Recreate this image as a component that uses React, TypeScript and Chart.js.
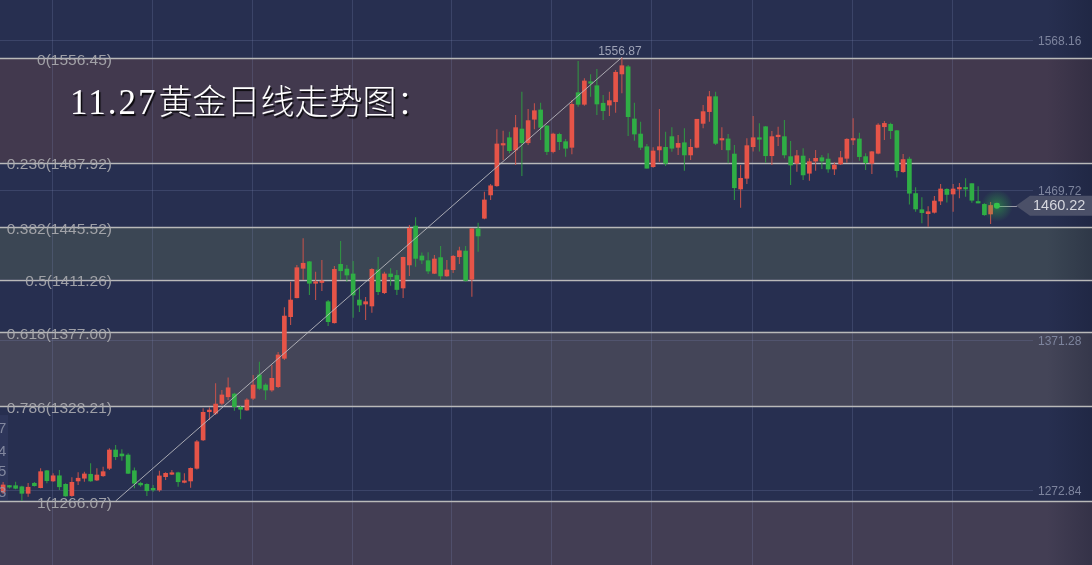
import React, { useEffect, useRef } from 'react';
import { Chart, registerables } from 'chart.js';

Chart.register(...registerables);

// ---- Data (daily gold candles) ----
const opens = [
  1272.0, 1275.7, 1276.1, 1275.4, 1271.1, 1277.7, 1274.8, 1285.9, 1279.2, 1282.6,
  1277.0, 1269.6, 1279.2, 1281.0, 1283.6, 1279.8, 1282.6, 1287.5, 1299.5, 1296.9,
  1296.2, 1285.9, 1277.7, 1277.0, 1274.4, 1273.3, 1282.0, 1283.6, 1284.6, 1278.3,
  1279.2, 1287.5, 1306.1, 1324.6, 1323.6, 1330.1, 1334.4, 1336.2, 1327.5, 1325.7,
  1333.4, 1348.7, 1342.1, 1338.8, 1341.0, 1359.6, 1386.9, 1399.3, 1418.6, 1422.9,
  1408.8, 1409.3, 1396.7, 1382.9, 1421.2, 1418.1, 1414.9, 1397.8, 1395.2, 1393.9,
  1417.5, 1402.6, 1414.9, 1413.9, 1405.7, 1420.8, 1446.3, 1426.7, 1423.6, 1415.3,
  1425.6, 1413.6, 1417.7, 1426.2, 1429.9, 1411.4, 1444.5, 1451.4, 1466.7, 1472.7,
  1499.4, 1504.2, 1496.2, 1509.9, 1500.9, 1516.3, 1522.4, 1511.9, 1495.1, 1506.4,
  1501.6, 1497.9, 1533.7, 1526.1, 1540.9, 1538.3, 1526.8, 1525.6, 1527.8, 1546.0,
  1550.7, 1516.5, 1506.6, 1498.3, 1485.2, 1496.2, 1497.9, 1504.9, 1497.9, 1500.9,
  1492.9, 1497.9, 1513.6, 1521.3, 1531.1, 1502.7, 1503.4, 1493.5, 1470.6, 1477.6,
  1498.3, 1504.2, 1511.4, 1492.4, 1504.9, 1504.9, 1491.8, 1487.4, 1492.2, 1480.9,
  1488.9, 1491.1, 1490.2, 1483.7, 1487.0, 1490.7, 1502.7, 1503.4, 1491.8, 1487.4,
  1494.0, 1511.4, 1513.0, 1508.8, 1481.9, 1490.2, 1467.6, 1457.0, 1454.4, 1455.3,
  1462.7, 1470.4, 1467.3, 1470.6, 1471.2, 1474.1, 1462.1, 1460.5, 1454.2, 1460.6,
];
const highs = [
  1278.5, 1276.6, 1278.7, 1276.1, 1277.9, 1278.5, 1287.5, 1286.4, 1284.2, 1286.4,
  1277.7, 1281.6, 1284.9, 1285.3, 1290.8, 1287.5, 1288.5, 1300.6, 1302.8, 1300.0,
  1297.3, 1288.1, 1278.7, 1277.7, 1276.6, 1285.9, 1284.9, 1286.4, 1285.3, 1284.2,
  1288.1, 1306.1, 1326.8, 1327.5, 1343.2, 1338.8, 1347.1, 1337.1, 1328.3, 1333.4,
  1348.7, 1357.4, 1343.2, 1355.2, 1363.7, 1393.0, 1409.8, 1420.8, 1438.3, 1423.4,
  1416.4, 1424.0, 1397.8, 1420.1, 1436.5, 1420.8, 1423.4, 1405.7, 1399.8, 1418.6,
  1426.0, 1416.4, 1418.6, 1417.5, 1426.2, 1447.0, 1452.0, 1429.0, 1429.1, 1427.3,
  1433.2, 1424.0, 1427.3, 1432.8, 1433.2, 1445.1, 1448.5, 1468.8, 1473.9, 1509.7,
  1508.8, 1508.1, 1519.1, 1534.4, 1523.0, 1526.8, 1527.2, 1512.5, 1507.5, 1507.5,
  1503.4, 1528.9, 1554.5, 1543.1, 1545.8, 1549.2, 1532.2, 1534.4, 1548.6, 1556.87,
  1551.9, 1527.2, 1514.7, 1500.1, 1497.9, 1523.0, 1508.1, 1511.0, 1506.0, 1510.4,
  1503.4, 1516.5, 1525.6, 1534.8, 1534.4, 1511.0, 1506.6, 1499.4, 1486.3, 1503.8,
  1518.4, 1513.6, 1511.9, 1508.6, 1511.4, 1515.8, 1502.0, 1496.2, 1497.3, 1490.7,
  1496.2, 1492.9, 1494.0, 1488.1, 1495.5, 1503.8, 1516.9, 1507.5, 1494.0, 1495.5,
  1513.6, 1515.2, 1514.0, 1509.3, 1493.5, 1491.8, 1471.7, 1465.1, 1459.2, 1466.0,
  1473.9, 1471.0, 1473.9, 1474.5, 1477.6, 1474.3, 1472.4, 1461.2, 1462.1, 1460.8,
];
const lows = [
  1270.7, 1274.3, 1273.7, 1266.07, 1268.9, 1275.6, 1274.4, 1277.7, 1278.7, 1273.3,
  1268.9, 1268.9, 1276.6, 1278.7, 1278.7, 1279.2, 1282.0, 1286.4, 1292.9, 1292.5,
  1283.8, 1274.4, 1275.4, 1269.4, 1272.2, 1272.2, 1279.8, 1283.1, 1275.4, 1277.7,
  1274.8, 1286.8, 1305.4, 1319.2, 1322.4, 1329.0, 1332.3, 1325.3, 1319.6, 1325.3,
  1332.3, 1338.8, 1332.3, 1337.7, 1340.1, 1358.5, 1381.4, 1398.9, 1410.9, 1401.1,
  1397.8, 1403.7, 1380.8, 1382.5, 1410.9, 1409.8, 1386.2, 1390.0, 1384.7, 1389.5,
  1401.1, 1401.8, 1407.2, 1401.1, 1399.1, 1413.6, 1419.7, 1421.4, 1414.9, 1414.9,
  1410.9, 1413.1, 1415.5, 1421.4, 1409.8, 1400.0, 1429.5, 1450.7, 1463.4, 1472.1,
  1489.6, 1494.0, 1486.3, 1479.1, 1499.4, 1509.7, 1502.7, 1492.9, 1494.0, 1496.2,
  1491.8, 1493.3, 1524.5, 1525.2, 1531.1, 1519.1, 1515.8, 1518.4, 1520.6, 1533.3,
  1505.3, 1502.2, 1496.2, 1484.0, 1484.5, 1488.5, 1485.7, 1495.0, 1492.9, 1482.6,
  1489.6, 1497.3, 1510.4, 1514.7, 1499.4, 1496.2, 1487.4, 1463.4, 1458.3, 1473.9,
  1495.1, 1495.1, 1487.8, 1486.3, 1498.8, 1490.7, 1473.2, 1481.9, 1476.5, 1476.0,
  1482.6, 1483.7, 1481.3, 1479.8, 1486.3, 1487.8, 1499.4, 1489.1, 1483.0, 1480.4,
  1493.3, 1502.7, 1503.4, 1478.2, 1481.3, 1460.4, 1455.7, 1448.1, 1445.9, 1454.6,
  1460.1, 1461.7, 1455.7, 1464.5, 1465.5, 1461.6, 1461.2, 1453.1, 1447.6, 1459.9,
];
const closes = [
  1276.6, 1275.2, 1274.4, 1271.1, 1275.1, 1276.1, 1285.3, 1279.4, 1282.6, 1275.4,
  1269.4, 1278.3, 1281.0, 1283.8, 1279.2, 1283.1, 1285.3, 1299.5, 1295.1, 1295.6,
  1284.2, 1277.7, 1276.6, 1272.8, 1273.3, 1282.5, 1284.2, 1284.6, 1278.7, 1279.2,
  1287.5, 1304.9, 1324.2, 1325.7, 1329.6, 1335.6, 1340.3, 1327.9, 1326.2, 1332.3,
  1342.1, 1339.9, 1338.8, 1346.5, 1361.8, 1387.3, 1397.8, 1419.0, 1421.9, 1408.8,
  1409.8, 1410.3, 1383.6, 1417.9, 1417.0, 1414.2, 1401.1, 1394.5, 1396.7, 1417.9,
  1403.3, 1414.9, 1413.1, 1404.7, 1425.8, 1444.8, 1425.1, 1424.0, 1416.8, 1424.7,
  1413.6, 1417.5, 1426.5, 1430.1, 1410.6, 1444.5, 1439.8, 1463.4, 1472.7, 1500.1,
  1500.3, 1495.7, 1510.8, 1500.9, 1515.4, 1521.9, 1511.0, 1495.1, 1506.6, 1501.6,
  1497.3, 1526.1, 1526.1, 1541.4, 1539.9, 1526.3, 1521.9, 1528.5, 1547.1, 1551.4,
  1518.0, 1506.6, 1497.9, 1484.2, 1495.5, 1498.3, 1487.4, 1497.3, 1500.5, 1492.9,
  1497.9, 1516.3, 1521.3, 1531.1, 1500.5, 1503.4, 1496.2, 1471.4, 1477.6, 1499.0,
  1504.2, 1503.2, 1492.4, 1504.9, 1505.5, 1492.9, 1486.3, 1492.4, 1479.8, 1488.5,
  1490.7, 1488.9, 1483.7, 1486.3, 1491.1, 1503.2, 1503.4, 1491.8, 1487.8, 1495.0,
  1512.5, 1513.6, 1508.8, 1482.6, 1489.9, 1467.8, 1457.5, 1455.1, 1455.7, 1462.7,
  1470.6, 1467.0, 1470.6, 1471.2, 1470.6, 1463.2, 1461.4, 1453.7, 1459.8, 1460.22,
];

// Fibonacci retracement levels
const fibRatios = ['0', '0.236', '0.382', '0.5', '0.618', '0.786', '1'];
const fibPrices = [1556.45, 1487.92, 1445.52, 1411.26, 1377.0, 1328.21, 1266.07];
const fibBandColors = ['#42394e', null, '#3b4654', null, '#444558', null];
const belowFibColor = '#433e54';

// Axis ticks
const yTicks = [1272.84, 1371.28, 1469.72, 1568.16];
const xGridTicks = [7.82, 23.82, 39.82, 55.82, 71.82, 87.82, 103.82, 119.82, 135.82, 151.82];
const yMin = 1224.12;
const yMax = 1594.47;

// Trend line from the swing low to the swing high
const trendPoints = [
  { x: 18, y: 1266.07 },
  { x: 99, y: 1556.87 },
];
const highIndex = 99;
const highLabel = '1556.87';
const lastPrice = 1460.22;
const titleText = '11.27黄金日线走势图：';

// Clipped labels of a hidden left axis
const leftBoxRange = [1322.4, 1266.7];
const leftLabelPrices = [1313.3, 1298.2, 1285.1, 1271.3];
const leftLabelTexts = ['7', '4', '5', '3'];

const BG = '#272f50';
const RED = '#e65448';
const GREEN = '#2fae45';
const RED_WICK = '#c9534b';
const GREEN_WICK = '#2f9a42';
const GRID = 'rgba(120,130,175,0.25)';

const isUp = (i: number) => closes[i] >= opens[i];

const decorPlugin = {
  id: 'decor',
  beforeDraw(chart: any) {
    const { ctx, width, height } = chart;
    const y = chart.scales.y;
    ctx.save();
    ctx.fillStyle = BG;
    ctx.fillRect(0, 0, width, height);
    for (let k = 0; k < fibPrices.length - 1; k++) {
      const c = fibBandColors[k];
      if (!c) continue;
      const y0 = y.getPixelForValue(fibPrices[k]);
      const y1 = y.getPixelForValue(fibPrices[k + 1]);
      ctx.fillStyle = c;
      ctx.fillRect(0, y0, width, y1 - y0);
    }
    const yb = y.getPixelForValue(fibPrices[fibPrices.length - 1]);
    ctx.fillStyle = belowFibColor;
    ctx.fillRect(0, yb, width, height - yb);
    // left clipped axis box
    const ly0 = y.getPixelForValue(leftBoxRange[0]);
    const ly1 = y.getPixelForValue(leftBoxRange[1]);
    ctx.fillStyle = 'rgba(60,70,110,0.35)';
    ctx.fillRect(0, ly0, 8, ly1 - ly0);
    // right edge darkening
    const g = ctx.createLinearGradient(width - 45, 0, width, 0);
    g.addColorStop(0, 'rgba(15,20,40,0)');
    g.addColorStop(1, 'rgba(15,20,40,0.28)');
    ctx.fillStyle = g;
    ctx.fillRect(width - 45, 0, 45, height);
    ctx.restore();
  },
  beforeDatasetsDraw(chart: any) {
    const { ctx, width } = chart;
    const y = chart.scales.y;
    ctx.save();
    ctx.strokeStyle = '#b9b9b9';
    ctx.lineWidth = 1.4;
    fibPrices.forEach((p) => {
      const py = Math.round(y.getPixelForValue(p)) + 0.5;
      ctx.beginPath();
      ctx.moveTo(0, py);
      ctx.lineTo(width, py);
      ctx.stroke();
    });
    ctx.restore();
  },
  afterDatasetsDraw(chart: any) {
    const { ctx } = chart;
    const x = chart.scales.x;
    const y = chart.scales.y;
    ctx.save();
    // fib labels
    ctx.font = "15.5px 'Liberation Sans', Arial, sans-serif";
    ctx.fillStyle = 'rgba(172,172,176,0.9)';
    ctx.textAlign = 'right';
    ctx.textBaseline = 'middle';
    fibPrices.forEach((p, k) => {
      const py = y.getPixelForValue(p);
      ctx.fillText(`${fibRatios[k]}(${p.toFixed(2)})`, 112, py + 2.5);
    });
    // left clipped labels
    ctx.font = "15px 'Liberation Sans', Arial, sans-serif";
    ctx.fillStyle = 'rgba(150,155,175,0.8)';
    ctx.textAlign = 'left';
    leftLabelPrices.forEach((p, k) => {
      ctx.fillText(leftLabelTexts[k], -2, y.getPixelForValue(p));
    });
    // right axis labels
    ctx.font = "12px 'Liberation Sans', Arial, sans-serif";
    ctx.fillStyle = '#7d849d';
    ctx.textAlign = 'left';
    yTicks.forEach((v) => {
      ctx.fillText(v.toFixed(2), 1038, y.getPixelForValue(v) + 1.5);
    });
    // high label
    ctx.fillStyle = '#9ea3b6';
    ctx.textAlign = 'center';
    ctx.fillText(highLabel, x.getPixelForValue(highIndex) - 2, y.getPixelForValue(highs[highIndex]) - 6);
    // current price marker
    const lx = x.getPixelForValue(opens.length - 1);
    const ly = y.getPixelForValue(lastPrice) + 1;
    ctx.strokeStyle = '#9a9aa8';
    ctx.lineWidth = 1;
    ctx.beginPath();
    ctx.moveTo(lx, Math.round(ly) + 0.5);
    ctx.lineTo(1017, Math.round(ly) + 0.5);
    ctx.stroke();
    ctx.fillStyle = '#4b5068';
    ctx.beginPath();
    ctx.moveTo(1016, ly);
    ctx.lineTo(1030, ly - 10);
    ctx.lineTo(1092, ly - 10);
    ctx.lineTo(1092, ly + 10);
    ctx.lineTo(1030, ly + 10);
    ctx.closePath();
    ctx.fill();
    ctx.font = "14.5px 'Liberation Sans', Arial, sans-serif";
    ctx.fillStyle = '#d6d7de';
    ctx.textAlign = 'left';
    ctx.textBaseline = 'middle';
    ctx.fillText(lastPrice.toFixed(2), 1033, ly + 0.5);
    const glow = ctx.createRadialGradient(lx, ly, 0, lx, ly, 16);
    glow.addColorStop(0, 'rgba(50,200,70,0.45)');
    glow.addColorStop(1, 'rgba(50,200,70,0)');
    ctx.fillStyle = glow;
    ctx.beginPath();
    ctx.arc(lx, ly, 16, 0, Math.PI * 2);
    ctx.fill();
    ctx.fillStyle = '#33c24a';
    ctx.beginPath();
    ctx.arc(lx, ly, 3, 0, Math.PI * 2);
    ctx.fill();
    // title: half-width part (digits) spaced like a monospace face, CJK part at normal pitch
    const split = titleText.search(/[^\x00-\x7f]/);
    const latin = split < 0 ? titleText : titleText.slice(0, split);
    const cjk = split < 0 ? '' : titleText.slice(split);
    ctx.textAlign = 'left';
    ctx.textBaseline = 'alphabetic';
    ctx.shadowColor = 'rgba(0,0,0,0.85)';
    ctx.shadowOffsetX = 1.5;
    ctx.shadowOffsetY = 1.5;
    ctx.shadowBlur = 1;
    ctx.fillStyle = '#ffffff';
    ctx.font = "35px 'Liberation Serif', serif";
    (ctx as any).letterSpacing = '2px';
    ctx.fillText(latin, 70, 114);
    const w = ctx.measureText(latin).width;
    (ctx as any).letterSpacing = '0px';
    ctx.font = "300 34px 'Noto Sans CJK SC', sans-serif";
    ctx.fillText(cjk, 70 + w + 1, 114);
    ctx.restore();
  },
};

export default function App() {
  const canvasRef = useRef<HTMLCanvasElement | null>(null);

  useEffect(() => {
    document.body.style.margin = '0';
    const canvas = canvasRef.current;
    if (!canvas) return;
    const bodyData = opens.map((o, i) => ({ x: i, y: [o, closes[i]] }));
    const wickData = lows.map((l, i) => ({ x: i, y: [l, highs[i]] }));
    const chart = new Chart(canvas, {
      type: 'bar',
      data: {
        datasets: [
          {
            type: 'line',
            data: trendPoints,
            borderColor: 'rgba(190,190,195,0.85)',
            borderWidth: 1,
            pointRadius: 0,
            order: 0,
          } as any,
          {
            data: bodyData as any,
            backgroundColor: (c: any) => (isUp(c.dataIndex) ? RED : GREEN),
            barThickness: 4,
            minBarLength: 1.5,
            grouped: false,
            order: 1,
          },
          {
            data: wickData as any,
            backgroundColor: (c: any) => (isUp(c.dataIndex) ? RED_WICK : GREEN_WICK),
            barThickness: 1,
            inflateAmount: 0,
            grouped: false,
            order: 2,
          },
        ],
      },
      options: {
        animation: false,
        responsive: true,
        maintainAspectRatio: false,
        devicePixelRatio: 1,
        layout: { padding: 0 },
        plugins: { legend: { display: false }, tooltip: { enabled: false } },
        scales: {
          x: {
            type: 'linear',
            min: -0.5,
            max: opens.length - 0.5,
            offset: false,
            position: 'bottom',
            ticks: { display: false },
            grid: { color: GRID, drawTicks: false, offset: false },
            border: { display: false },
            afterBuildTicks: (s: any) => {
              s.ticks = xGridTicks.map((v) => ({ value: v }));
            },
            afterFit: (s: any) => {
              s.height = 0;
            },
          },
          y: {
            type: 'linear',
            position: 'right',
            min: yMin,
            max: yMax,
            beginAtZero: false,
            ticks: { display: false },
            grid: { color: GRID, tickColor: GRID, drawTicks: true, tickLength: 33 },
            border: { display: false },
            afterBuildTicks: (s: any) => {
              s.ticks = yTicks.map((v) => ({ value: v }));
            },
            afterFit: (s: any) => {
              s.width = 92;
            },
          },
        },
      } as any,
      plugins: [decorPlugin as any],
    });
    return () => chart.destroy();
  }, []);

  return (
    <div style={{ position: 'fixed', left: 0, top: 0, width: 1092, height: 565 }}>
      <canvas ref={canvasRef} />
    </div>
  );
}
